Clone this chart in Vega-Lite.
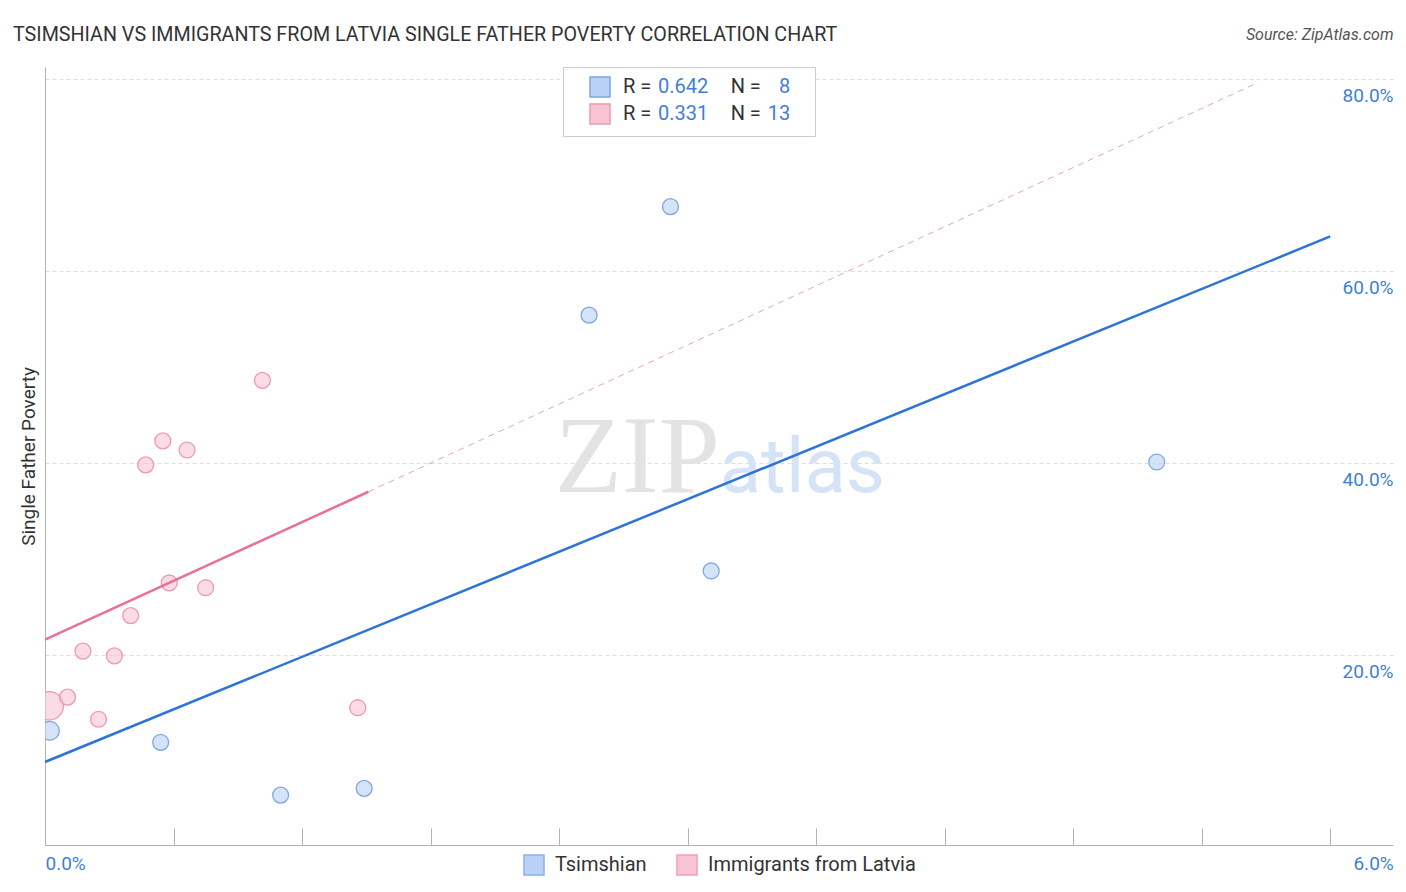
{
  "$schema": "https://vega.github.io/schema/vega-lite/v6.json",
  "width": 1348,
  "height": 778,
  "autosize": {"type": "none"},
  "padding": {"left": 45, "top": 67, "right": 13, "bottom": 47},
  "background": "#ffffff",
  "config": {
    "view": {"stroke": null},
    "font": "Roboto",
    "axis": {"labelFont": "Roboto", "titleFont": "Roboto"},
    "legend": {"labelFont": "Roboto"}
  },
  "title": {
    "text": "TSIMSHIAN VS IMMIGRANTS FROM LATVIA SINGLE FATHER POVERTY CORRELATION CHART",
    "anchor": "start",
    "frame": "group",
    "dx": -32,
    "offset": -19,
    "font": "Roboto",
    "fontSize": 19.7,
    "fontWeight": "normal",
    "color": "#333333"
  },
  "datasets": {
    "pts": [
      {"series": "Tsimshian", "s1": "t", "s2": "T", "x": 0.023, "y": 12.1, "w": 2.6},
      {"series": "Tsimshian", "s1": "t", "s2": "T", "x": 0.54, "y": 10.9, "w": 1},
      {"series": "Tsimshian", "s1": "t", "s2": "T", "x": 1.10, "y": 5.4, "w": 1},
      {"series": "Tsimshian", "s1": "t", "s2": "T", "x": 1.49, "y": 6.1, "w": 1},
      {"series": "Tsimshian", "s1": "t", "s2": "T", "x": 2.54, "y": 55.4, "w": 1},
      {"series": "Tsimshian", "s1": "t", "s2": "T", "x": 2.92, "y": 66.7, "w": 1},
      {"series": "Tsimshian", "s1": "t", "s2": "T", "x": 3.11, "y": 28.75, "w": 1},
      {"series": "Tsimshian", "s1": "t", "s2": "T", "x": 5.19, "y": 40.1, "w": 1},
      {"series": "Immigrants from Latvia", "s1": "l", "s2": "L", "x": 0.02, "y": 14.7, "w": 10},
      {"series": "Immigrants from Latvia", "s1": "l", "s2": "L", "x": 0.105, "y": 15.6, "w": 1},
      {"series": "Immigrants from Latvia", "s1": "l", "s2": "L", "x": 0.177, "y": 20.4, "w": 1},
      {"series": "Immigrants from Latvia", "s1": "l", "s2": "L", "x": 0.25, "y": 13.3, "w": 1},
      {"series": "Immigrants from Latvia", "s1": "l", "s2": "L", "x": 0.324, "y": 19.9, "w": 1},
      {"series": "Immigrants from Latvia", "s1": "l", "s2": "L", "x": 0.40, "y": 24.1, "w": 1},
      {"series": "Immigrants from Latvia", "s1": "l", "s2": "L", "x": 0.47, "y": 39.8, "w": 1},
      {"series": "Immigrants from Latvia", "s1": "l", "s2": "L", "x": 0.55, "y": 42.3, "w": 1},
      {"series": "Immigrants from Latvia", "s1": "l", "s2": "L", "x": 0.58, "y": 27.5, "w": 1},
      {"series": "Immigrants from Latvia", "s1": "l", "s2": "L", "x": 0.663, "y": 41.35, "w": 1},
      {"series": "Immigrants from Latvia", "s1": "l", "s2": "L", "x": 0.75, "y": 27.0, "w": 1},
      {"series": "Immigrants from Latvia", "s1": "l", "s2": "L", "x": 1.015, "y": 48.6, "w": 1},
      {"series": "Immigrants from Latvia", "s1": "l", "s2": "L", "x": 1.46, "y": 14.5, "w": 1}
    ],
    "lines": [
      {"seg": "T", "x": 0, "y": 8.85},
      {"seg": "T", "x": 6.0, "y": 63.6},
      {"seg": "LS", "x": 0, "y": 21.6},
      {"seg": "LS", "x": 1.51, "y": 37.0},
      {"seg": "LD", "x": 1.51, "y": 37.0},
      {"seg": "LD", "x": 5.66, "y": 79.6}
    ]
  },
  "layer": [
    {
      "data": {"values": [{"label": "ZIP"}]},
      "mark": {"type": "text", "font": "Liberation Serif", "fontSize": 110, "color": "#e3e3e3", "align": "left", "baseline": "alphabetic"},
      "encoding": {
        "x": {"datum": 2.38, "type": "quantitative", "scale": {"domain": [0, 6.293], "nice": false, "zero": false}, "axis": null},
        "y": {"datum": 37, "type": "quantitative", "scale": {"domain": [0.2, 81.25], "nice": false, "zero": false}, "axis": null},
        "text": {"field": "label"}
      }
    },
    {
      "data": {"values": [{"label": "atlas"}]},
      "mark": {"type": "text", "font": "Roboto", "fontSize": 76, "color": "#d5e3f6", "align": "left", "baseline": "alphabetic"},
      "encoding": {
        "x": {"datum": 3.15, "type": "quantitative", "scale": {"domain": [0, 6.293], "nice": false, "zero": false}, "axis": null},
        "y": {"datum": 37, "type": "quantitative", "scale": {"domain": [0.2, 81.25], "nice": false, "zero": false}, "axis": null},
        "text": {"field": "label"}
      }
    },
    {
      "data": {"name": "pts"},
      "mark": {"type": "point", "clip": true, "fillOpacity": 0.6, "strokeWidth": 1.3},
      "encoding": {
        "x": {
          "field": "x", "type": "quantitative",
          "scale": {"domain": [0, 6.293], "nice": false, "zero": false},
          "axis": {
            "orient": "top", "domain": false, "ticks": false, "labels": false, "grid": false,
            "title": "Source: ZipAtlas.com", "titleFont": "Roboto", "titleFontSize": 16, "titleFontStyle": "italic",
            "titleFontWeight": "normal", "titleColor": "#555555", "titleAnchor": "end", "titleAlign": "right",
            "titleBaseline": "alphabetic", "titleX": 1348, "titleY": -28
          }
        },
        "y": {
          "field": "y", "type": "quantitative",
          "scale": {"domain": [0.2, 81.25], "nice": false, "zero": false},
          "axis": {
            "orient": "right", "values": [20, 40, 60, 80], "domain": false, "ticks": false,
            "grid": true, "gridColor": "#dddddd", "gridDash": [4, 3], "gridWidth": 1,
            "labelExpr": "format(datum.value, '.1f') + '%'", "labelAlign": "right", "labelPadding": 0,
            "labelBaseline": "middle", "labelOffset": 17, "labelColor": "#3f7fd9", "labelFontSize": 19,
            "title": null
          }
        },
        "fill": {
          "field": "series", "type": "nominal",
          "scale": {"domain": ["Tsimshian", "Immigrants from Latvia"], "range": ["#b9d1f5", "#f8c3d3"]},
          "legend": {
            "title": null, "orient": "none", "legendX": 478, "legendY": 787, "direction": "horizontal",
            "symbolType": "square", "symbolSize": 400, "symbolStrokeWidth": 1.5,
            "labelFontSize": 20, "labelColor": "#333333", "labelOffset": 10, "labelLimit": 400, "columnPadding": 27, "padding": 0,
            "encode": {"symbols": {"update": {
              "stroke": [{"test": "datum.value == 'Tsimshian'", "value": "#8cb0e8"}, {"value": "#f0a0b9"}],
              "fillOpacity": {"value": 1}, "strokeWidth": {"value": 1.5}}}}
          }
        },
        "stroke": {
          "field": "s1", "type": "nominal",
          "scale": {"domain": ["t", "l"], "range": ["#7fa7e4", "#ec9ab4"]},
          "legend": {
            "title": null, "orient": "none", "legendX": 518, "legendY": 0, "padding": 9,
            "symbolOffset": 17, "labelOffset": 12, "symbolType": "square", "symbolSize": 400, "symbolStrokeWidth": 1.5,
            "symbolFillColor": "#b9d1f5",
            "labelFontSize": 20, "labelColor": "#333333", "rowPadding": 1, "labelLimit": 400,
            "labelExpr": "'R\u00a0=\u00a0\u00a0\u00a0\u00a0\u00a0\u00a0\u00a0\u00a0\u00a0\u00a0\u00a0\u00a0\u00a0\u00a0\u00a0\u00a0N\u00a0='",
            "encode": {"symbols": {"update": {
              "fill": [{"test": "datum.value == 't'", "value": "#b9d1f5"}, {"value": "#f8c3d3"}],
              "stroke": [{"test": "datum.value == 't'", "value": "#8cb0e8"}, {"value": "#f0a0b9"}],
              "fillOpacity": {"value": 1}, "strokeWidth": {"value": 1.5}}}}
          }
        },
        "shape": {
          "field": "s2", "type": "nominal",
          "scale": {"domain": ["T", "L"], "range": ["circle", "circle"]},
          "legend": {
            "title": null, "orient": "none", "legendX": 518, "legendY": 0, "padding": 9,
            "symbolOffset": 17, "labelOffset": 47, "symbolType": "square", "symbolSize": 400,
            "symbolFillColor": "transparent", "symbolStrokeColor": "transparent",
            "labelFontSize": 20, "labelColor": "#3f7fd9", "rowPadding": 1, "labelLimit": 400,
            "strokeColor": "#cccccc", "fillColor": "#ffffff",
            "labelExpr": "datum.label == 'T' ? '0.642\u00a0\u00a0\u00a0\u00a0\u00a0\u00a0\u00a0\u00a0\u00a0\u00a0\u00a0\u00a0\u20078\u00a0\u00a0\u00a0\u200b' : '0.331\u00a0\u00a0\u00a0\u00a0\u00a0\u00a0\u00a0\u00a0\u00a0\u00a0\u00a0\u00a013\u00a0\u00a0\u00a0\u200b'",
            "encode": {"symbols": {"update": {
              "fill": {"value": "transparent"}, "stroke": {"value": "transparent"}}}}
          }
        },
        "size": {
          "field": "w", "type": "quantitative",
          "scale": {"domain": [1, 10], "range": [254, 804], "zero": false},
          "legend": null
        }
      }
    },
    {
      "data": {"name": "lines"},
      "transform": [{"filter": "datum.seg == 'T'"}],
      "mark": {"type": "line", "color": "#2e73d6", "strokeWidth": 2.5, "clip": true},
      "encoding": {
        "x": {
          "field": "x", "type": "quantitative",
          "scale": {"domain": [0, 6.293], "nice": false, "zero": false},
          "axis": {
            "orient": "bottom", "values": [0, 0.6, 1.2, 1.8, 2.4, 3, 3.6, 4.2, 4.8, 5.4, 6],
            "grid": false, "domain": true, "domainColor": "#b3b3b3", "domainWidth": 1,
            "ticks": true, "tickColor": "#b3b3b3", "tickSize": -17, "tickWidth": 1,
            "labelExpr": "datum.value == 0 ? '0.0%' : (datum.value == 6 ? '6.0%' : '')",
            "labelFontSize": 19, "labelColor": "#3f7fd9",
            "labelAlign": {"condition": {"test": "datum.value == 0", "value": "left"}, "value": "right"},
            "labelOffset": {"condition": {"test": "datum.value == 6", "value": 63}, "value": 0},
            "labelBaseline": "top", "labelPadding": 26, "labelOverlap": false, "labelFlush": false,
            "title": null
          }
        },
        "y": {
          "field": "y", "type": "quantitative",
          "scale": {"domain": [0.2, 81.25], "nice": false, "zero": false},
          "axis": {
            "orient": "left", "domain": true, "domainColor": "#b3b3b3", "domainWidth": 1,
            "ticks": false, "labels": false, "grid": false,
            "title": "Single Father Poverty", "titleFontSize": 19, "titleColor": "#333333",
            "titleFontWeight": "normal", "titlePadding": 7
          }
        }
      }
    },
    {
      "data": {"name": "lines"},
      "transform": [{"filter": "datum.seg == 'LS'"}],
      "mark": {"type": "line", "color": "#e8709a", "strokeWidth": 2.5, "clip": true},
      "encoding": {
        "x": {"field": "x", "type": "quantitative", "scale": {"domain": [0, 6.293], "nice": false, "zero": false}, "axis": null},
        "y": {"field": "y", "type": "quantitative", "scale": {"domain": [0.2, 81.25], "nice": false, "zero": false}, "axis": null}
      }
    },
    {
      "data": {"name": "lines"},
      "transform": [{"filter": "datum.seg == 'LD'"}],
      "mark": {"type": "line", "color": "#eba5ba", "strokeWidth": 1, "strokeDash": [6, 5], "clip": true},
      "encoding": {
        "x": {"field": "x", "type": "quantitative", "scale": {"domain": [0, 6.293], "nice": false, "zero": false}, "axis": null},
        "y": {"field": "y", "type": "quantitative", "scale": {"domain": [0.2, 81.25], "nice": false, "zero": false}, "axis": null}
      }
    }
  ],
  "resolve": {"axis": {"x": "independent", "y": "independent"}}
}
